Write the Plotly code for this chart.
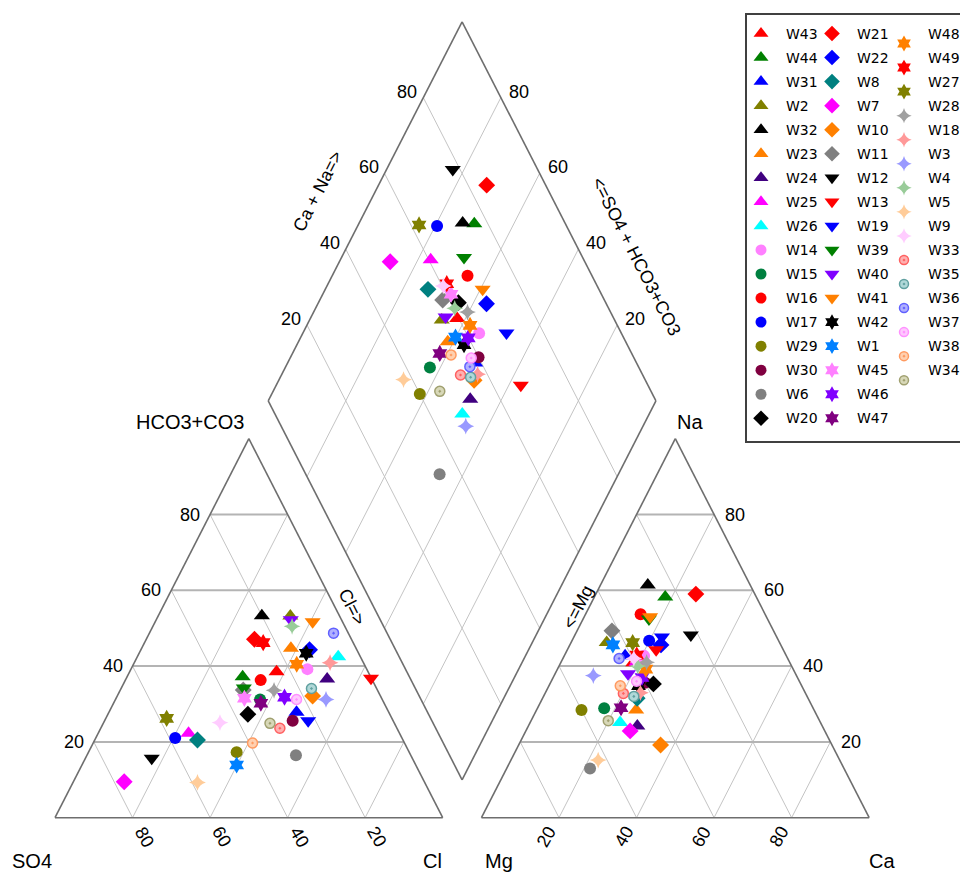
import plotly.graph_objects as go

# ---------------- data (percent of meq) ----------------
samples = ["W43", "W44", "W31", "W2", "W32", "W23", "W24", "W25", "W26", "W14", "W15", "W16", "W17",
           "W29", "W30", "W6", "W20",
           "W21", "W22", "W8", "W7", "W10", "W11", "W12", "W13", "W19", "W39", "W40", "W41", "W42",
           "W1", "W45", "W46", "W47",
           "W48", "W49", "W27", "W28", "W18", "W3", "W4", "W5", "W9", "W33", "W35", "W36", "W37",
           "W38", "W34"]
cl = [37.9, 29.8, 48.4, 34.1, 26.7, 38.5, 51.9, 23.3, 51.8, 45.5, 37.3, 34.9, 20.5,
      38.2, 48.5, 53.9, 36.1,
      27.9, 43.5, 26.5, 13.1, 50.4, 31.7, 17.1, 63.1, 52.5, 31.6, 34.7, 40.6, 43.1,
      39.9, 33.1, 43.3, 38.0,
      42.1, 30.6, 15.7, 39.7, 50.5, 54.3, 35.9, 32.1, 30.0, 46.2, 49.1, 47.5, 46.7,
      41.1, 43.0]
hco3 = [38.5, 37.2, 27.8, 53.2, 53.3, 44.7, 36.6, 22.3, 42.5, 39.2, 31.2, 36.3, 21.0,
        17.3, 25.6, 16.5, 27.3,
        47.1, 44.3, 20.5, 9.5, 32.1, 33.7, 15.7, 36.8, 25.6, 34.2, 52.2, 51.7, 43.4,
        13.9, 31.5, 31.8, 30.2,
        40.5, 46.2, 26.2, 33.6, 40.9, 31.2, 50.5, 9.3, 25.1, 23.6, 34.1, 48.7, 31.2,
        19.7, 24.9]
ca = [18.7, 18.3, 15.7, 9.2, 12.2, 25.7, 28.1, 19.5, 23.2, 20.6, 17.2, 14.2, 19.9,
      11.6, 24.4, 21.5, 26.7,
      25.8, 23.5, 24.4, 26.9, 36.6, 9.0, 29.9, 22.9, 22.7, 17.0, 18.8, 17.0, 23.1,
      11.1, 19.2, 22.9, 21.5,
      22.8, 18.6, 15.9, 22.1, 24.5, 10.1, 20.3, 22.5, 18.3, 20.2, 23.3, 14.5, 22.0,
      18.4, 19.9]
na = [40.9, 58.2, 42.7, 46.2, 61.4, 28.4, 24.2, 41.0, 25.1, 42.7, 28.9, 53.7, 46.7,
      28.4, 35.6, 13.0, 35.3,
      59.0, 45.6, 31.5, 22.9, 19.2, 49.3, 48.2, 44.3, 47.7, 52.4, 38.0, 53.0, 34.8,
      45.6, 42.0, 37.0, 29.0,
      39.2, 42.9, 46.2, 41.0, 33.0, 37.5, 40.0, 15.2, 42.0, 32.8, 32.0, 42.0, 36.0,
      34.8, 25.6]
ticks = [20, 40, 60, 80]

# ---------------- styles ----------------
symbols = (["triangle-up"] * 9 + ["circle"] * 7 + ["diamond"] +
           ["diamond"] * 6 + ["triangle-down"] * 6 + ["hexagram"] * 5 +
           ["hexagram"] * 3 + ["star-diamond"] * 6 + ["circle-dot"] * 6)
colors = ["#ff0000", "#008000", "#0000ff", "#808000", "#000000", "#ff8000", "#400080", "#ff00ff",
          "#00ffff", "#ff80ff", "#008040", "#ff0000", "#0000ff", "#808000", "#800040", "#808080",
          "#000000",
          "#ff0000", "#0000ff", "#008080", "#ff00ff", "#ff8000", "#808080", "#000000", "#ff0000",
          "#0000ff", "#008000", "#8000ff", "#ff8000", "#000000", "#0080ff", "#ff80ff", "#8000ff",
          "#800080",
          "#ff8000", "#ff0000", "#808000", "#a0a0a0", "#ff9999", "#9999ff", "#99cc99", "#ffcc99",
          "#ffccff", "#ffb0b0", "#b0d8d8", "#b0b0ff", "#ffc8ff", "#ffd0b0", "#d8d8b8"]
dotline = {"#ffb0b0": "#ff6060", "#b0d8d8": "#60a0a0", "#b0b0ff": "#6060ff",
           "#ffc8ff": "#ff90ff", "#ffd0b0": "#ff9a60", "#d8d8b8": "#a0a070"}
msize = {"triangle-up": 14, "triangle-down": 14, "circle": 12, "diamond": 13,
         "hexagram": 13, "star-diamond": 12, "circle-dot": 10}

FONT = "Liberation Sans, Arial, sans-serif"
GAP = 10.0
W, H = 960, 874


def L(c, h):      # anion triangle
    return c + h / 2.0, h


def R(a, n):      # cation triangle
    return 100 + GAP + a + n / 2.0, n


def D(p, q):      # diamond
    return 100 + GAP / 2 - p / 2.0 + q / 2.0, GAP + p + q


fig = go.Figure()


def add_lines(segs, color, width):
    xs, ys = [], []
    for (a, b) in segs:
        xs += [a[0], b[0], None]
        ys += [a[1], b[1], None]
    fig.add_trace(go.Scatter(x=xs, y=ys, mode="lines", line=dict(color=color, width=width),
                             hoverinfo="skip", showlegend=False))


thin, horiz = [], []
for v in ticks:
    horiz.append((L(0, v), L(100 - v, v)))
    thin.append((L(v, 0), L(v, 100 - v)))
    thin.append((L(100 - v, 0), L(0, 100 - v)))
    horiz.append((R(0, v), R(100 - v, v)))
    thin.append((R(v, 0), R(v, 100 - v)))
    thin.append((R(100 - v, 0), R(0, 100 - v)))
    thin.append((D(v, 0), D(v, 100)))
    thin.append((D(0, v), D(100, v)))
add_lines(thin, "#c4c4c4", 1)
add_lines(horiz, "#b4b4b4", 2)
outl = [(L(0, 0), L(100, 0)), (L(100, 0), L(0, 100)), (L(0, 100), L(0, 0)),
        (R(0, 0), R(100, 0)), (R(100, 0), R(0, 100)), (R(0, 100), R(0, 0)),
        (D(0, 0), D(100, 0)), (D(100, 0), D(100, 100)), (D(100, 100), D(0, 100)), (D(0, 100), D(0, 0))]
add_lines(outl, "#6e6e6e", 1.6)

# ---------------- sample points ----------------
for i, s in enumerate(samples):
    lx, ly = L(cl[i], hco3[i])
    rx, ry = R(ca[i], na[i])
    dx, dy = D(100 - cl[i], ca[i] + na[i])
    sym = symbols[i]
    mk = dict(symbol=sym, color=colors[i], size=msize[sym], line=dict(width=0))
    if sym == "circle-dot":
        mk["line"] = dict(width=1.5, color=dotline[colors[i]])
    fig.add_trace(go.Scatter(x=[lx, rx, dx], y=[ly, ry, dy], mode="markers", name=s,
                             marker=mk, showlegend=False))

# ---------------- manual legend (pixel axes) ----------------
col_starts = [0, 17, 34]
col_mx = [761, 832, 904]
col_tx = [784, 855, 926]
ann = []
for i, s in enumerate(samples):
    c = 0 if i < 17 else (1 if i < 34 else 2)
    r = i - col_starts[c]
    ty = 33.5 + 24.05 * r
    my = ty + (10 if c == 2 else 0)
    sym = symbols[i]
    fig.add_trace(go.Scatter(
        x=[col_mx[c]], y=[my], xaxis="x2", yaxis="y2", mode="markers", showlegend=False,
        hoverinfo="skip",
        marker=dict(symbol=sym, color=colors[i], size=msize[sym] - 1,
                    line=dict(width=(1.5 if sym == "circle-dot" else 0),
                              color=dotline.get(colors[i], colors[i])))))
    ann.append(dict(x=col_tx[c], y=ty, xref="x2", yref="y2", text=s, showarrow=False,
                    xanchor="left", yanchor="middle",
                    font=dict(family="DejaVu Sans, Verdana, sans-serif", size=14, color="#000")))

# ---------------- tick labels ----------------
tf = dict(family=FONT, size=18, color="#000")
for v in ticks:
    x, y = L(0, v)
    ann.append(dict(x=x, y=y, text=str(v), showarrow=False, xanchor="right", yanchor="middle",
                    xshift=-8, font=tf))
    x, y = L(v, 0)
    ann.append(dict(x=x, y=y, text=str(100 - v), showarrow=False, textangle=60,
                    xanchor="center", yanchor="middle", xshift=12, yshift=-19, font=tf))
    x, y = R(100 - v, v)
    ann.append(dict(x=x, y=y, text=str(v), showarrow=False, xanchor="left", yanchor="middle",
                    xshift=9, font=tf))
    x, y = R(v, 0)
    ann.append(dict(x=x, y=y, text=str(v), showarrow=False, textangle=-60,
                    xanchor="center", yanchor="middle", xshift=-13, yshift=-19, font=tf))
    x, y = D(100, v)
    ann.append(dict(x=x, y=y, text=str(v), showarrow=False, xanchor="right", yanchor="middle",
                    xshift=-4, yshift=6, font=tf))
    x, y = D(v, 100)
    ann.append(dict(x=x, y=y, text=str(v), showarrow=False, xanchor="left", yanchor="middle",
                    xshift=6, yshift=6, font=tf))

# ---------------- titles (pixel positions) ----------------
big = dict(family=FONT, size=20, color="#000")
for txt, px, py, ang, f in [
    ("HCO3+CO3", 190, 422, 0, big), ("SO4", 32, 861, 0, big), ("Cl", 432, 861, 0, big),
    ("Na", 690, 422, 0, big), ("Mg", 499, 861, 0, big), ("Ca", 882, 861, 0, big),
    ("Cl=>", 352, 607, 63, tf), ("<=Mg", 578, 607, -63, tf),
    ("Ca + Na=>", 318, 191, -63, tf), ("<=SO4 + HCO3+CO3", 636, 256, 63, tf)]:
    ann.append(dict(x=px, y=py, xref="x2", yref="y2", text=txt, showarrow=False,
                    textangle=ang, xanchor="center", yanchor="middle", font=f))

SX, SY, X0, Y0 = 3.877, 3.79, 55.0, 817.7
fig.update_layout(
    width=W, height=H, margin=dict(l=0, r=0, t=0, b=0),
    paper_bgcolor="white", plot_bgcolor="white", showlegend=False,
    xaxis=dict(range=[-X0 / SX, (W - X0) / SX], visible=False, fixedrange=True),
    yaxis=dict(range=[(Y0 - H) / SY, Y0 / SY], visible=False, fixedrange=True),
    xaxis2=dict(range=[0, W], overlaying="x", visible=False),
    yaxis2=dict(range=[H, 0], overlaying="y", visible=False),
    annotations=ann,
    shapes=[dict(type="rect", xref="x2", yref="y2", x0=746, y0=14, x1=975, y1=442,
                 line=dict(color="#404040", width=2), fillcolor="rgba(0,0,0,0)", layer="below")],
)

fig.write_html("out.html",
               config={"displayModeBar": False},
               post_script="document.body.style.margin='0';"
                           "document.body.style.overflow='hidden';")
